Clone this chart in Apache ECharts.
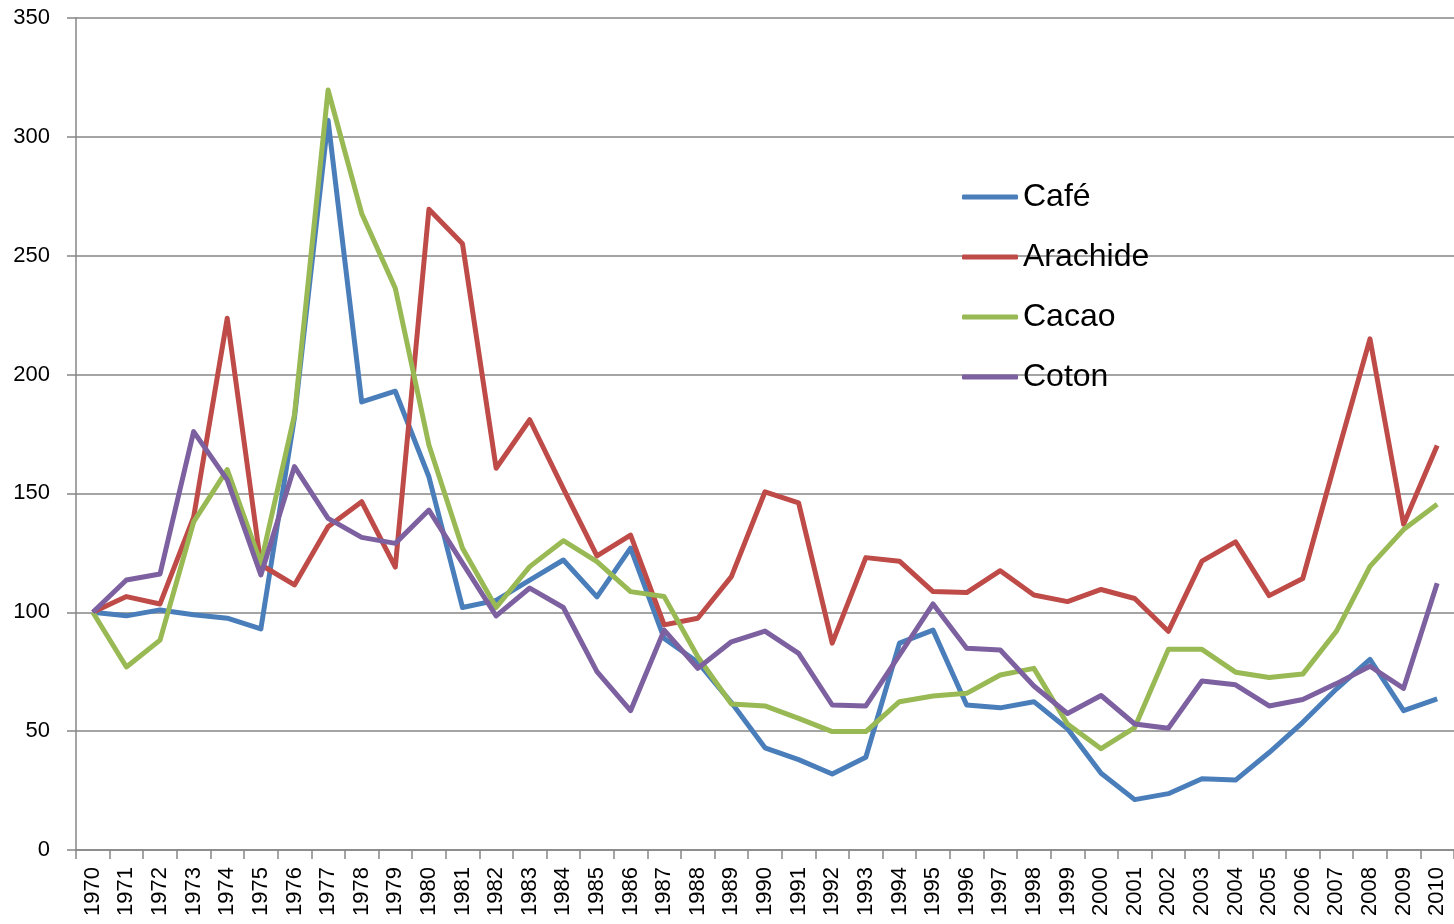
<!DOCTYPE html>
<html>
<head>
<meta charset="utf-8">
<script src="https://cdn.jsdelivr.net/npm/echarts@6/dist/echarts.min.js"></script>
<style>
  html, body { margin: 0; padding: 0; background: #fff; }
  #main { width: 1454px; height: 924px; }
</style>
</head>
<body>
<div id="main"></div>
<script>
// années 1970 -> 2010
const years = []
for (let y = 1970; y <= 2010; y++) years.push(String(y))

const cafe = [100, 98.5, 101, 99, 97.5, 93, 182, 307, 188.5, 193, 157, 102, 105, 113.5, 122, 106.5, 127, 89, 79, 62, 43, 38, 32, 39, 87, 92.5, 61, 59.8, 62.4, 51, 32.3, 21.2, 23.7, 30, 29.4, 41, 53.7, 67.7, 80.2, 58.6, 63.6]
const arachide = [100, 106.6, 103.5, 140, 223.7, 120, 111.5, 136, 146.5, 119, 269.5, 255, 160.6, 181, 152, 123.7, 132.5, 94.7, 97.5, 115, 150.7, 146, 87, 123, 121.5, 108.7, 108.3, 117.5, 107.3, 104.5, 109.6, 105.8, 92, 121.5, 129.6, 107, 114.2, 165, 215, 137, 170.2]
const cacao = [100, 77, 88.3, 138, 160, 120.6, 183, 319.7, 267.8, 236.3, 170.4, 126.9, 102, 119.2, 130.1, 121.3, 108.7, 106.6, 81.3, 61.4, 60.6, 55.4, 49.8, 49.8, 62.4, 64.8, 65.9, 73.6, 76.4, 53, 42.6, 51.5, 84.4, 84.4, 74.8, 72.6, 74, 92, 119.3, 134.8, 145.4]
const coton = [100, 113.6, 116.1, 176, 155.7, 115.7, 161.3, 139.5, 131.5, 129, 143, 120.7, 98.5, 110.2, 102, 75, 58.6, 92.5, 76.4, 87.6, 92.1, 82.7, 61, 60.6, 82, 103.5, 84.9, 84.1, 69, 57.4, 65, 53, 51.2, 71.1, 69.5, 60.6, 63.3, 70, 77.3, 68, 112.2]

const names = ['Café', 'Arachide', 'Cacao', 'Coton']
const colors = ['#4A7EBB', '#BE4B48', '#98B954', '#7D60A0']
const gray = '#868686'
const font = 'Liberation Sans, Arial, sans-serif'

function line(name, data, color) {
  return {
    name: name,
    type: 'line',
    data: data,
    symbol: 'none',
    smooth: false,
    lineStyle: { width: 5, color: color, join: 'round' },
    itemStyle: { color: color }
  }
}

let myChart = echarts.init(document.getElementById('main')) //初始化实例
myChart.setOption({
  animation: false,
  textStyle: { fontFamily: font },
  grid: { left: 76, right: 0, top: 18, bottom: 74, containLabel: false },
  legend: {
    orient: 'vertical',
    left: 957,
    top: 176,
    icon: 'roundRect',
    itemWidth: 56,
    itemHeight: 5,
    itemGap: 28,
    textStyle: { fontSize: 32, color: '#000', fontFamily: font },
    data: names
  },
  xAxis: {
    type: 'category',
    data: years,
    boundaryGap: true,
    axisLine: { lineStyle: { color: gray, width: 1.5 } },
    axisTick: { show: true, length: 9, lineStyle: { color: gray, width: 1.5 } },
    axisLabel: { rotate: 90, interval: 0, fontSize: 22, color: '#000', margin: 17 }
  },
  yAxis: {
    type: 'value',
    min: 0,
    max: 350,
    interval: 50,
    axisLine: { show: true, lineStyle: { color: gray, width: 1.5 } },
    axisTick: { show: true, length: 9, lineStyle: { color: gray, width: 1.5 } },
    axisLabel: { fontSize: 22, color: '#000', margin: 26 },
    splitLine: { lineStyle: { color: gray, width: 1.5 } }
  },
  series: [
    line(names[0], cafe, colors[0]),
    line(names[1], arachide, colors[1]),
    line(names[2], cacao, colors[2]),
    line(names[3], coton, colors[3])
  ]
})
</script>
</body>
</html>
